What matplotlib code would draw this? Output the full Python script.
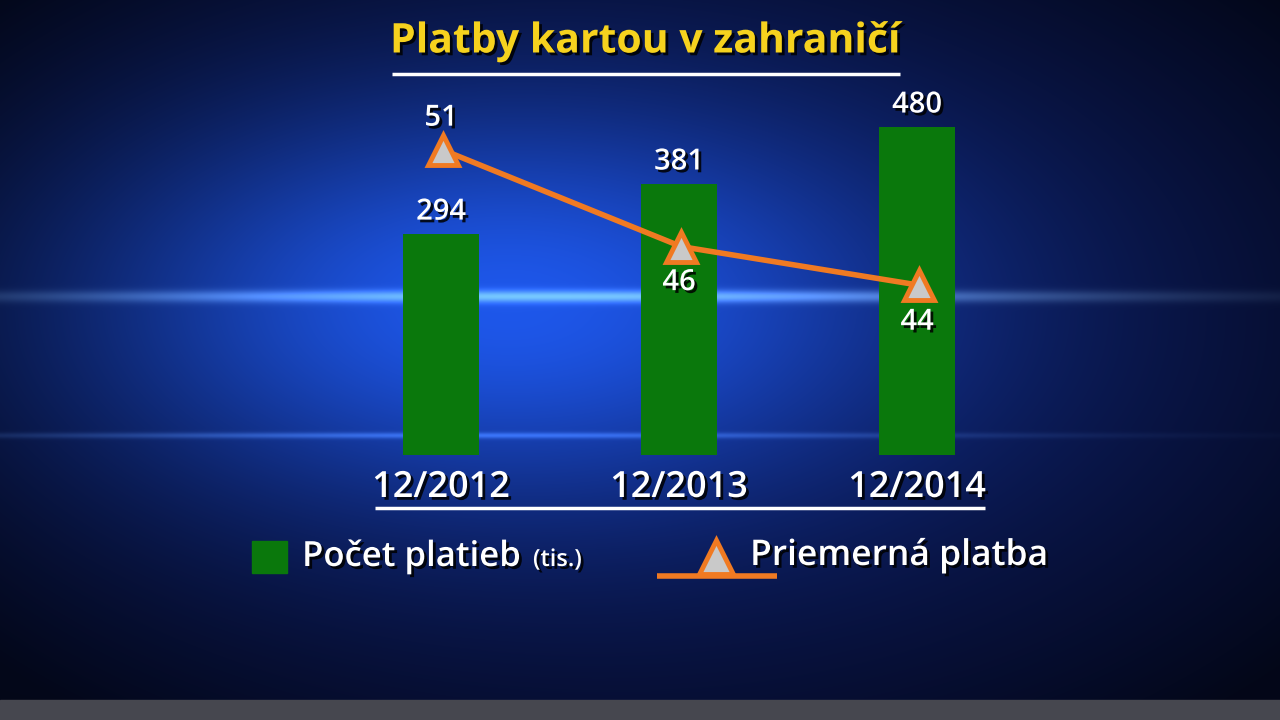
import numpy as np
import matplotlib.pyplot as plt
import matplotlib.patheffects as pe
from matplotlib.patches import Rectangle

plt.rcParams['font.family'] = ['Open Sans', 'DejaVu Sans']

# data
obdobia = ['12/2012', '12/2013', '12/2014']
pocet_platieb = [294, 381, 480]      # tis.
priemerna_platba = [51, 46, 44]

zelena = '#0a780c'
oranzova = '#f07a22'
shadow = [pe.withSimplePatchShadow(offset=(2, -2), shadow_rgbFace='black', alpha=0.85)]

fig = plt.figure(figsize=(12.8, 7.2), dpi=100)

# background
bg = fig.add_axes([0, 0, 1, 1])
H, W = 720, 1280
yy, xx = np.mgrid[0:H, 0:W].astype(float)
base = np.array([0.04, 0.09, 0.32])
img = np.ones((H, W, 3)) * base
glow = np.exp(-((xx - 470) / 450) ** 2 - ((yy - 300) / 210) ** 2)
img += glow[..., None] * np.array([0.08, 0.26, 0.62])
streak = np.exp(-((yy - 296) / 6) ** 2) * np.exp(-((xx - 550) / 600) ** 2)
img += streak[..., None] * np.array([0.35, 0.45, 0.45])
streak2 = np.exp(-((yy - 435) / 3) ** 2) * np.exp(-((xx - 400) / 600) ** 2)
img += streak2[..., None] * np.array([0.15, 0.22, 0.3])
vign = np.clip(1 - 0.5 * (((xx - 640) / 720) ** 2 + ((yy - 330) / 430) ** 2), 0.3, 1)
img *= vign[..., None]
img = np.clip(img, 0, 1)
bg.imshow(img, extent=[0, W, H, 0], aspect='auto')
bg.add_patch(Rectangle((0, 700), W, 20, color='#46474f'))
bg.set_xlim(0, W)
bg.set_ylim(H, 0)
bg.axis('off')

# title
bg.text(646, 42, 'Platby kartou v zahraničí', color='#f6d21e', fontsize=29.5,
        fontweight='bold', ha='center', va='center', path_effects=shadow)
bg.plot([392, 900], [74, 74], color='white', lw=2.5, solid_capstyle='butt')
bg.plot([375, 985], [508, 508], color='white', lw=2.5, solid_capstyle='butt')

# legend
bg.add_patch(Rectangle((252, 541), 35, 32, color=zelena))
bg.text(302, 557, 'Počet platieb', color='white', fontsize=25, fontweight='semibold',
        ha='left', va='center', path_effects=shadow)
bg.text(533, 560, '(tis.)', color='white', fontsize=17, fontweight='semibold',
        ha='left', va='center', path_effects=shadow)
bg.plot([657, 777], [576, 576], color=oranzova, lw=4, solid_capstyle='butt')
bg.plot([716], [557], marker='^', ms=24, mfc='#c9c9c9', mec=oranzova, mew=3.5)
bg.text(750, 556, 'Priemerná platba', color='white', fontsize=25.5, fontweight='semibold',
        ha='left', va='center', path_effects=shadow)

# bars
x = np.arange(len(obdobia))
ax = fig.add_axes([322 / W, 1 - 455 / H, 714 / W, 355 / H])
ax.patch.set_alpha(0)
y_lo = -90
ax.bar(x, np.array(pocet_platieb) - y_lo, bottom=y_lo, width=0.32, color=zelena)
ax.set_xlim(-0.5, 2.5)
ax.set_ylim(y_lo, 527)
for xi, v in zip(x, pocet_platieb):
    ax.annotate(str(v), (xi, v), xytext=(0, 22), textcoords='offset pixels',
                ha='center', va='center', color='white', fontsize=21,
                fontweight='semibold', path_effects=shadow)
for xi, lab in zip(x, obdobia):
    ax.annotate(lab, (xi, y_lo), xytext=(0, -33), textcoords='offset pixels',
                ha='center', va='center', color='white', fontsize=26,
                fontweight='semibold', path_effects=shadow, annotation_clip=False)
ax.axis('off')

# line
ax2 = ax.twinx()
ax2.set_ylim(35.2, 53.6)
ax2.plot(x + 0.01, priemerna_platba, color=oranzova, lw=4, marker='^', ms=22,
         mfc='#c9c9c9', mec=oranzova, mew=3.5)
offs = [-32, 36, 37]
for xi, v, o in zip(x, priemerna_platba, offs):
    ax2.annotate(str(v), (xi, v), xytext=(0, -o), textcoords='offset pixels',
                 ha='center', va='center', color='white', fontsize=21,
                 fontweight='semibold', path_effects=shadow)
ax2.axis('off')

fig.savefig('out.png', dpi=100)
